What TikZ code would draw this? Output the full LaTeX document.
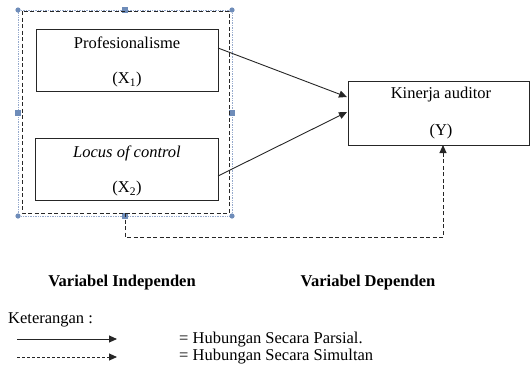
\documentclass[tikz,border=0pt]{standalone}
\usepackage{fontspec}
\setmainfont{Liberation Serif}
\usetikzlibrary{arrows.meta}
\definecolor{selc}{RGB}{150,170,205}
\definecolor{handc}{RGB}{110,140,185}
\begin{document}
\begin{tikzpicture}[x=1pt,y=-1pt,
  box/.style={draw=black!85,line width=0.9pt},
  txt/.style={inner sep=0pt,font=\fontsize{16.5}{19}\selectfont},
  lbl/.style={inner sep=0pt,font=\fontsize{16.5}{19}\selectfont\bfseries},
  arr/.style={draw=black!85,line width=0.9pt,-{Triangle[length=8pt,width=7pt]}},
  darr/.style={arr,dashed,dash pattern=on 4pt off 2.5pt},
  sel/.style={draw=selc,line width=0.7pt,densely dotted},
  handle/.style={fill=handc}
]
\useasboundingbox (0,0) rectangle (530,365);
% selection frame
\draw[sel] (18,10) rectangle (232,216);
\foreach \p in {(18,10),(232,10),(18,216),(232,216)} \fill[handle] \p circle (2.6pt);
\foreach \p in {(18,113),(232,113),(125,216),(125,10)} \fill[handle] \p ++(-3,-3) rectangle ++(6,6);
% dashed group rectangle
\draw[box,dashed,dash pattern=on 4pt off 2.5pt] (22,11) rectangle (229,213);
\coordinate (grp) at (125,213);
% boxes
\draw[box] (36,29) rectangle (218,91);
\node[txt] (p) at (127,43) {Profesionalisme};
\node[txt] (x1) at (127,80) {(X\textsubscript{1})};
\draw[box] (35,138) rectangle (218,200);
\node[txt] (l) at (127,153) {\itshape Locus of control};
\node[txt] (x2) at (127,189) {(X\textsubscript{2})};
\draw[box] (348,81) rectangle (529,145);
\node[txt] (k) at (441,95) {Kinerja auditor};
\node[txt] (y) at (441,132) {(Y)};
\coordinate (a1s) at (218,48);
\coordinate (a1e) at (347,97);
\coordinate (a2s) at (218,176);
\coordinate (a2e) at (347,112);
\coordinate (ybot) at (443,145);
\draw[arr] (a1s) -- (a1e);
\draw[arr] (a2s) -- (a2e);
\draw[darr] (grp) -- (125,237) -- (443,237) -- (ybot);
% labels
\node[lbl] (vi) at (122,283) {Variabel Independen};
\node[lbl] (vd) at (368,283) {Variabel Dependen};
\node[txt,anchor=west] (ket) at (8,320) {Keterangan :};
\coordinate (l1s) at (17,339);
\coordinate (l1e) at (117,339);
\coordinate (l2s) at (17,357);
\coordinate (l2e) at (117,357);
\draw[arr] (l1s) -- (l1e);
\draw[darr,dash pattern=on 3pt off 2pt] (l2s) -- (l2e);
\node[txt,anchor=west] (h1) at (179,340) {= Hubungan Secara Parsial.};
\node[txt,anchor=west] (h2) at (179,357) {= Hubungan Secara Simultan};
\end{tikzpicture}
\end{document}
